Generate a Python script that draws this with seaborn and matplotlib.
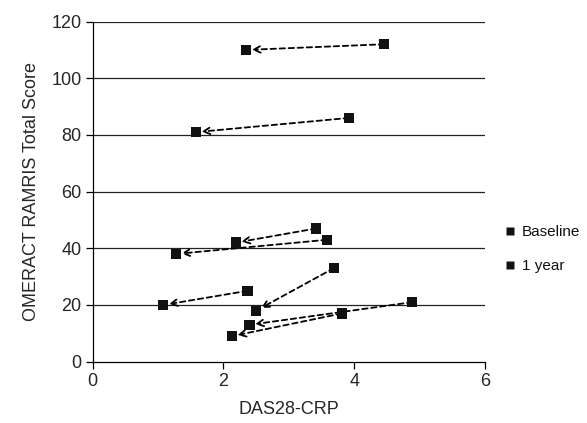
import matplotlib
matplotlib.use("Agg")
import matplotlib.pyplot as plt
import seaborn as sns
import pandas as pd

baseline_das = [4.46, 3.92, 3.42, 3.58, 3.69, 2.37, 4.89, 3.81]
baseline_score = [112, 86, 47, 43, 33, 25, 21, 17]
year1_das = [2.35, 1.58, 2.19, 1.27, 2.50, 1.08, 2.40, 2.13]
year1_score = [110, 81, 42, 38, 18, 20, 13, 9]
x_ticks = [0, 2, 4, 6]
y_ticks = [0, 20, 40, 60, 80, 100, 120]

sns.set_theme(style="white")
plt.rcParams['font.family'] = ['Liberation Sans', 'DejaVu Sans']

df = pd.DataFrame({
    "DAS28-CRP": baseline_das + year1_das,
    "Score": baseline_score + year1_score,
    "Time": ["Baseline"] * len(baseline_das) + ["1 year"] * len(year1_das),
})

fig = plt.figure(figsize=(5.87, 4.23), dpi=100)
ax = fig.add_axes([0.158, 0.145, 0.668, 0.804])

for y in y_ticks[1:]:
    ax.axhline(y, color="#222222", lw=0.9, zorder=0)

for bx, by, ox, oy in zip(baseline_das, baseline_score, year1_das, year1_score):
    ax.annotate("", xy=(ox, oy), xytext=(bx, by),
                arrowprops=dict(arrowstyle="->", color="black", lw=1.3,
                                linestyle=(0, (3, 2)), shrinkA=0, shrinkB=4,
                                mutation_scale=12))

sns.scatterplot(data=df, x="DAS28-CRP", y="Score", hue="Time",
                palette={"Baseline": "#111111", "1 year": "#111111"},
                marker="s", s=55, edgecolor="none", ax=ax, zorder=3)

ax.set_xlim(0, 6)
ax.set_ylim(0, 120)
ax.set_xticks(x_ticks)
ax.set_yticks(y_ticks)
ax.tick_params(axis="both", labelsize=13, length=5, width=0.9, color="black",
               direction="out", bottom=True, left=True, pad=3)
for s in ["top", "right"]:
    ax.spines[s].set_visible(False)
for s in ["left", "bottom"]:
    ax.spines[s].set_color("black")
    ax.spines[s].set_linewidth(0.9)
ax.set_xlabel("DAS28-CRP", fontsize=13, labelpad=8)
ax.set_ylabel("OMERACT RAMRIS Total Score", fontsize=13, labelpad=8)

handles, labels = ax.get_legend_handles_labels()
ax.get_legend().remove()
leg = fig.legend(handles, labels, loc="upper left",
                 bbox_to_anchor=(503.5 / 587, 0.467), bbox_transform=fig.transFigure,
                 frameon=False, fontsize=11, handlelength=0.8, handletextpad=0.42,
                 labelspacing=1.3, borderpad=0, borderaxespad=0, markerscale=0.8)
for t in leg.get_texts():
    t.set_color("#111111")

fig.savefig("out.png", dpi=100)
